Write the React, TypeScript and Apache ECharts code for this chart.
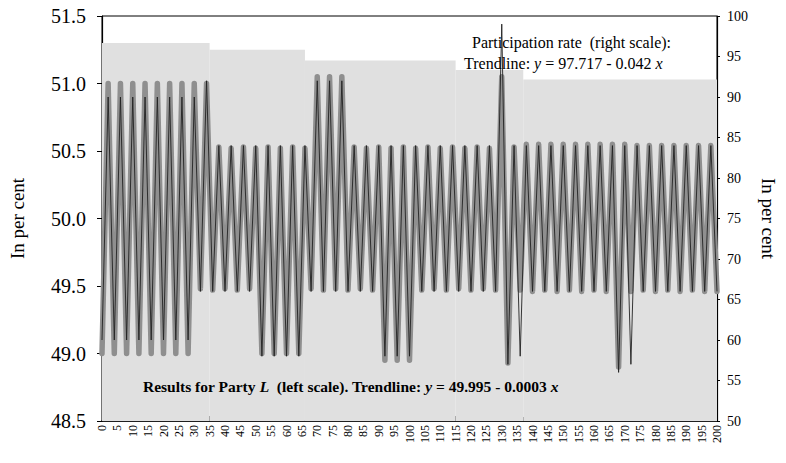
import React, { useEffect, useRef } from "react";
import * as echarts from "echarts";

// x positions (observations)
const X = [
  0, 2, 4, 6, 8, 10, 12, 14, 16, 18, 20, 22, 24, 26, 28, 30, 32, 34, 36, 38,
  40, 42, 44, 46, 48, 50, 52, 54, 56, 58, 60, 62, 64, 66, 68, 70, 72, 74, 76, 78,
  80, 82, 84, 86, 88, 90, 92, 94, 96, 98, 100, 102, 104, 106, 108, 110, 112, 114, 116, 118,
  120, 122, 124, 126, 128, 130, 132, 134, 136, 138, 140, 142, 144, 146, 148, 150, 152, 154, 156, 158,
  160, 162, 164, 166, 168, 170, 172, 174, 176, 178, 180, 182, 184, 186, 188, 190, 192, 194, 196, 198,
  200,
];

// Results for Party L (left scale, per cent)
const PARTY_L = [
  49.0, 51.0, 49.0, 51.0, 49.0, 51.0, 49.0, 51.0, 49.0, 51.0, 49.0, 51.0, 49.0, 51.0, 49.0, 51.0, 49.48, 51.0, 49.47, 50.53,
  49.48, 50.52, 49.47, 50.53, 49.48, 50.52, 49.0, 50.53, 49.0, 50.52, 49.0, 50.53, 49.0, 50.52, 49.48, 51.05, 49.47, 51.05, 49.48, 51.05,
  49.47, 50.53, 49.48, 50.52, 49.47, 50.53, 48.95, 50.52, 48.95, 50.53, 48.95, 50.52, 49.47, 50.53, 49.48, 50.52, 49.47, 50.53, 49.48, 50.52,
  49.47, 50.53, 49.48, 50.52, 49.47, 51.05, 48.93, 50.53, 49.47, 50.55, 49.46, 50.55, 49.47, 50.55, 49.46, 50.55, 49.47, 50.55, 49.46, 50.55,
  49.47, 50.55, 49.46, 50.55, 48.9, 50.55, 49.46, 50.54, 49.47, 50.54, 49.46, 50.54, 49.47, 50.54, 49.46, 50.54, 49.47, 50.54, 49.46, 50.54,
  49.46,
];

// Participation rate (right scale, per cent)
const PARTICIPATION = [
  60, 90, 60, 90, 60, 90, 60, 90, 60, 90, 60, 90, 60, 90, 60, 90, 66, 92, 66, 84,
  66, 84, 66, 84, 66, 84, 58, 84, 58, 84, 58, 84, 58, 84, 66, 92, 66, 92, 66, 92,
  66, 84, 66, 84, 66, 84, 58, 84, 58, 84, 58, 84, 66, 84, 66, 84, 66, 84, 66, 84,
  66, 84, 66, 84, 66, 99, 57, 84, 58, 84, 66, 84, 66, 84, 66, 84, 66, 84, 66, 84,
  66, 84, 66, 84, 56, 84, 57, 84, 66, 84, 66, 84, 66, 84, 66, 84, 66, 84, 66, 84,
  66,
];

// shaded (dotted) background bands: [xFrom, xTo, top value on left scale]
const BANDS: [number, number, number][] = [
  [0, 35, 51.3],
  [35, 66, 51.25],
  [66, 115, 51.17],
  [115, 137, 51.1],
  [137, 200, 51.03],
];

const SERIF = "Liberation Serif";

export default function App() {
  const ref = useRef<HTMLDivElement>(null);
  useEffect(() => {
    if (!ref.current) return;
    const chart = echarts.init(ref.current, undefined, { renderer: "svg" });
    const partyData = X.map((x, i) => [x, PARTY_L[i]]);
    const partData = X.map((x, i) => [x, PARTICIPATION[i]]);
    chart.setOption({
      animation: false,
      backgroundColor: "#fff",
      textStyle: { fontFamily: SERIF },
      grid: {
        left: 101,
        right: 54,
        top: 16,
        bottom: 42,
        show: true,
        borderColor: "#000",
        borderWidth: 1,
        backgroundColor: "transparent",
      },
      xAxis: {
        type: "value",
        min: 0,
        max: 200,
        interval: 5,
        axisLine: { show: true, lineStyle: { color: "#000", width: 1.5 } },
        axisTick: { show: true, inside: true, length: 5, lineStyle: { color: "#000" } },
        minorTick: { show: true, splitNumber: 5, length: 4, lineStyle: { color: "#000" } },
        splitLine: { show: false },
        axisLabel: {
          rotate: 90,
          fontSize: 12,
          color: "#000",
          fontFamily: SERIF,
          margin: 4,
        },
      },
      yAxis: [
        {
          type: "value",
          min: 48.5,
          max: 51.5,
          interval: 0.5,
          position: "left",
          name: "In per cent",
          nameLocation: "middle",
          nameGap: 75,
          nameTextStyle: { fontSize: 19, color: "#000", fontFamily: SERIF },
          axisLine: { show: true, lineStyle: { color: "#000", width: 1.2 } },
          axisTick: { show: true, length: 5, lineStyle: { color: "#000" } },
          splitLine: { show: false },
          axisLabel: {
            fontSize: 20,
            color: "#000",
            fontFamily: SERIF,
            margin: 16,
            formatter: (v: number) => v.toFixed(1),
          },
        },
        {
          type: "value",
          min: 50,
          max: 100,
          interval: 5,
          position: "right",
          name: "In per cent",
          nameLocation: "middle",
          nameRotate: -90,
          nameGap: 42,
          nameTextStyle: { fontSize: 19, color: "#000", fontFamily: SERIF },
          axisLine: { show: true, lineStyle: { color: "#000", width: 1.2 } },
          axisTick: { show: true, length: 3, lineStyle: { color: "#000" } },
          splitLine: { show: false },
          axisLabel: { fontSize: 14, color: "#000", fontFamily: SERIF, margin: 10 },
        },
      ],
      series: [
        {
          name: "Results for Party L",
          type: "line",
          yAxisIndex: 0,
          data: partyData,
          showSymbol: false,
          lineStyle: { color: "#8f8f8f", width: 5.5, cap: "round", join: "round" },
          z: 2,
          markArea: {
            silent: true,
            itemStyle: { color: "#e0e0e0" },
            data: BANDS.map(([a, b, top]) => [
              { xAxis: a, yAxis: 48.5 },
              { xAxis: b, yAxis: top },
            ]),
          },
        },
        {
          name: "Participation rate",
          type: "line",
          yAxisIndex: 1,
          data: partData,
          showSymbol: false,
          lineStyle: { color: "#222", width: 0.9 },
          z: 3,
        },
      ],
      graphic: [
        {
          type: "text",
          left: 472,
          top: 34,
          z: 10,
          style: {
            text: "Participation rate  (right scale):",
            font: `16px ${SERIF}`,
            fill: "#000",
          },
        },
        {
          type: "text",
          left: 464,
          top: 55,
          z: 10,
          style: {
            text: "Trendline: {i|y} = 97.717 - 0.042 {i|x}",
            font: `16px ${SERIF}`,
            fill: "#000",
            rich: {
              i: { fontStyle: "italic", fontSize: 16, fontFamily: SERIF, fill: "#000" },
            },
          },
        },
        {
          type: "text",
          left: 143,
          top: 378,
          z: 10,
          style: {
            text:
              "Results for Party {bi|L}  (left scale). Trendline: {bi|y} = 49.995 - 0.0003 {bi|x}",
            font: `bold 15.5px ${SERIF}`,
            fill: "#000",
            rich: {
              bi: {
                fontStyle: "italic",
                fontWeight: "bold",
                fontSize: 15.5,
                fontFamily: SERIF,
                fill: "#000",
              },
            },
          },
        },
      ],
    });
    return () => chart.dispose();
  }, []);
  return <div ref={ref} style={{ width: 786, height: 463, margin: -8 }} />;
}
